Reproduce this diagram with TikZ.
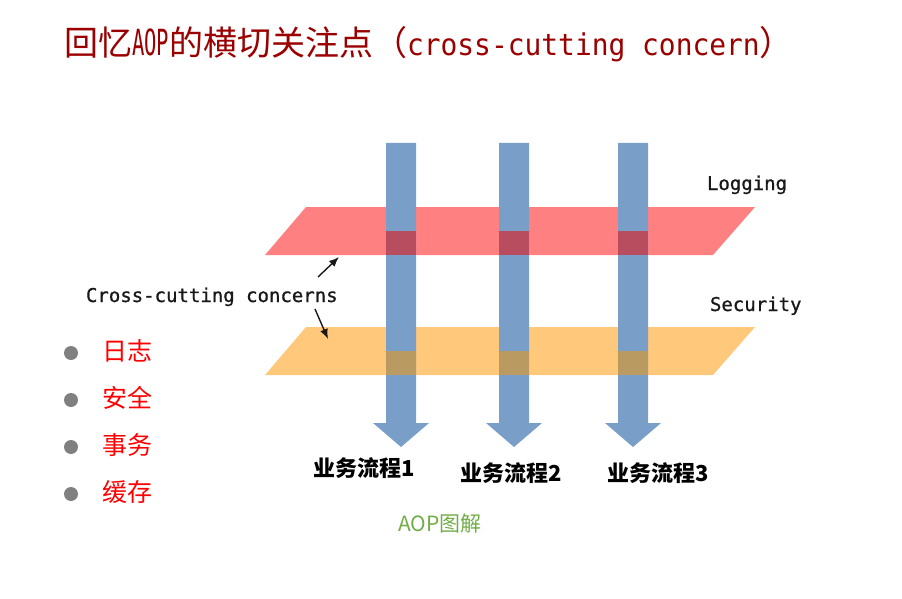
\documentclass[tikz,border=0pt]{standalone}
\usepackage{fontspec}
\usetikzlibrary{arrows.meta}
\newfontfamily\cjk{Noto Sans CJK SC}
\newfontfamily\monotitle[FakeStretch=0.93]{DejaVu Sans Mono}
\newfontfamily\monoaop[FakeStretch=0.57]{DejaVu Sans Mono}
\newfontfamily\labelfont[FakeBold=0.9]{DejaVu Sans Mono}

\definecolor{titlered}{RGB}{155,0,0}
\definecolor{barblue}{RGB}{121,158,199}
\definecolor{logplane}{RGB}{255,128,128}
\definecolor{secplane}{RGB}{255,200,122}
\definecolor{logover}{RGB}{185,77,96}
\definecolor{secover}{RGB}{185,155,98}
\definecolor{bulletgray}{RGB}{128,128,128}
\definecolor{captiongreen}{RGB}{112,173,71}
\definecolor{labelink}{RGB}{25,25,25}

\tikzset{
  txt/.style={inner sep=0pt, outer sep=0pt},
  titletext/.style={txt, anchor=base west, text=titlered, font=\cjk\fontsize{34}{40}\selectfont},
  planelabel/.style={txt, anchor=base west, text=labelink, font=\labelfont\fontsize{19}{22}\selectfont},
  flowlabel/.style={txt, anchor=base, text=black, font=\cjk\bfseries\fontsize{22}{26}\selectfont},
  item/.style={txt, anchor=base west, text=red, font=\cjk\fontsize{25}{30}\selectfont},
  dot/.style={circle, fill=bulletgray, minimum size=14pt, inner sep=0pt},
  caption/.style={txt, anchor=base, text=captiongreen, font=\cjk\fontsize{21}{25}\selectfont},
  pointer/.style={draw=labelink, line width=1.4pt, -{Latex[length=10pt,width=8pt]}},
}

\begin{document}
\begin{tikzpicture}[x=1pt,y=-1pt]
\useasboundingbox (0,0) rectangle (902,599);

% heading
\node[titletext] (title) at (64,56)
  {回忆{\fontsize{36}{40}\selectfont\monoaop AOP}的横切关注点（{\fontsize{30}{40}\selectfont\monotitle cross-cutting concern}）};

% the two aspect planes
\fill[logplane] (306,207) -- (755,207) -- (713,255) -- (265,255) -- cycle;
\fill[secplane] (306,327) -- (755,327) -- (713,375) -- (265,375) -- cycle;

% business flows passing through the planes
\foreach \cx in {401,514,633} {
  \fill[barblue] (\cx-15,143) -- (\cx+15,143) -- (\cx+15,423) -- (\cx+28,423)
    -- (\cx,447) -- (\cx-28,423) -- (\cx-15,423) -- cycle;
  \fill[logover] (\cx-15,231) rectangle (\cx+15,255);
  \fill[secover] (\cx-15,351) rectangle (\cx+15,375);
}

% plane labels
\node[planelabel] (logging) at (707,190) {Logging};
\node[planelabel] (security) at (710,311) {Security};
\node[planelabel] (concerns) at (86,302) {Cross-cutting concerns};

% pointers from the label to the planes
\coordinate (toLogFrom) at (318,277);
\coordinate (toLog) at (339,257);
\coordinate (toSecFrom) at (315,309);
\coordinate (toSec) at (328,339);
\draw[pointer] (toLogFrom) -- (toLog);
\draw[pointer] (toSecFrom) -- (toSec);

% flow names
\node[flowlabel] (flow1) at (364,476) {业务流程1};
\node[flowlabel] (flow2) at (511,481) {业务流程2};
\node[flowlabel] (flow3) at (658,481) {业务流程3};

% caption
\node[caption] (caption) at (440,531) {AOP图解};

% list of typical concerns
\node[dot] (b1) at (71,353) {};
\node[dot] (b2) at (71,400) {};
\node[dot] (b3) at (71,447) {};
\node[dot] (b4) at (71,494) {};
\node[item] (i1) at (102,360) {日志};
\node[item] (i2) at (102,407) {安全};
\node[item] (i3) at (102,454) {事务};
\node[item] (i4) at (102,501) {缓存};
\end{tikzpicture}
\end{document}
